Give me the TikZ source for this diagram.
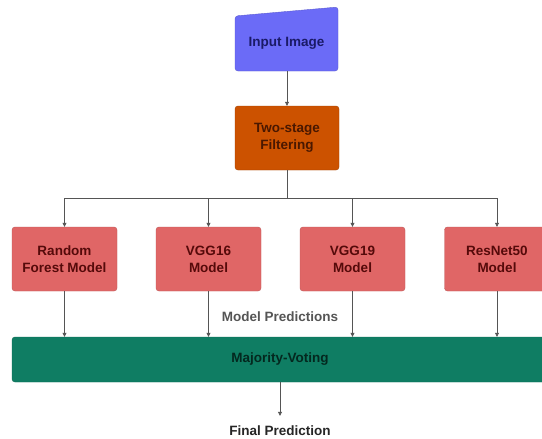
\documentclass[tikz,border=0pt]{standalone}
\usepackage{fontspec}
\setmainfont{Liberation Sans}
\usetikzlibrary{arrows.meta}
\definecolor{inpfill}{HTML}{6B6BF7}
\definecolor{inptext}{HTML}{1A1A66}
\definecolor{filtfill}{HTML}{CC5200}
\definecolor{filttext}{HTML}{4A1800}
\definecolor{modfill}{HTML}{E06666}
\definecolor{modtext}{HTML}{550A0A}
\definecolor{mvfill}{HTML}{0F7D63}
\definecolor{mvtext}{HTML}{04281F}
\definecolor{linegray}{HTML}{555555}
\tikzset{
  boxbase/.style={rounded corners=3pt, align=center, font=\fontsize{13.5}{17}\selectfont\bfseries, inner sep=0pt},
  filtbox/.style={boxbase, fill=filtfill, draw=filtfill!80!black, text=filttext, minimum width=104pt, minimum height=64pt},
  modbox/.style={boxbase, fill=modfill, draw=modfill!85!black, text=modtext, minimum width=105pt, minimum height=64pt},
  mvbox/.style={boxbase, fill=mvfill, draw=mvfill!85!black, text=mvtext, minimum width=536pt, minimum height=45pt},
  conn/.style={draw=linegray, line width=0.6pt},
  arr/.style={conn, -{Triangle[length=4pt,width=4pt]}},
  lbl/.style={font=\fontsize{13.5}{16}\selectfont\bfseries, inner sep=1pt}
}
\begin{document}
\begin{tikzpicture}[x=1pt,y=-1pt]
\useasboundingbox (0,0) rectangle (542,439);
\clip (0,0) rectangle (542,439);
\fill[white] (0,0) rectangle (542,439);
% input image (manual input shape)
\filldraw[fill=inpfill, draw=inpfill!85!black, rounded corners=3pt]
  (235,16) -- (338,7) -- (338,71) -- (235,71) -- cycle;
\node[boxbase, text=inptext] (inp) at (286.5,43) {Input Image};
\coordinate (inpb) at (287,71);
% filtering
\node[filtbox] (filt) at (287,138) {Two-stage\\Filtering};
% models
\node[modbox] (rf) at (64.5,259) {Random\\Forest Model};
\node[modbox] (v16) at (208.5,259) {VGG16\\Model};
\node[modbox] (v19) at (352.5,259) {VGG19\\Model};
\node[modbox] (rn) at (497,259) {ResNet50\\Model};
% majority voting
\node[mvbox] (mv) at (280,359.5) {Majority-Voting};
% labels
\node[lbl, text=linegray] (mp) at (280,317) {Model Predictions};
\node[lbl, text=black!85] (fp) at (280,431) {Final Prediction};
% connectors
\draw[arr] (inpb) -- (filt.north);
\coordinate (br) at (287,198);
\draw[conn] (filt.south) -- (br);
\draw[conn] (rf.north |- br) -- (rn.north |- br);
\foreach \m in {rf,v16,v19,rn}{
  \draw[arr] (\m.north |- br) -- (\m.north);
  \draw[arr] (\m.south) -- (\m.south |- mv.north);
}
\draw[arr, shorten >=9pt] (mv.south) -- (fp.north);
\end{tikzpicture}
\end{document}
